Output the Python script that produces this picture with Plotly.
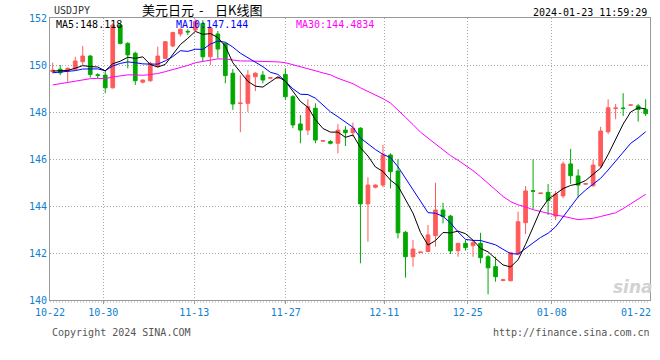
import pandas as pd
import plotly.graph_objects as go

# ---------------- data ----------------
symbol = "USDJPY"
title_left = "美元日元"
title_dash = "-"
title_right = "日K线图"
timestamp = "2024-01-23 11:59:29"
ma_labels = ["MA5:148.118", "MA10:147.144", "MA30:144.4834"]
date_labels = ["10-22", "10-30", "11-13", "11-27", "12-11", "12-25", "01-08", "01-22"]
y_ticks = [140, 142, 144, 146, 148, 150, 152]
copyright_text = "Copyright 2024 SINA.COM"
url_text = "http://finance.sina.com.cn"
watermark = "sina"

opens = [149.72, 149.82, 149.76, 149.82, 150.14, 150.38, 149.58, 149.57, 149.03, 151.70,
         150.92, 150.50, 149.27, 149.33, 149.93, 150.28, 150.81, 151.32, 151.43, 151.49,
         151.77, 150.35, 151.32, 150.92, 149.65, 148.36, 148.37, 149.50, 149.57, 149.44,
         149.44, 149.60, 148.65, 147.49, 147.23, 148.16, 146.76, 146.74, 146.67, 147.23,
         147.12, 147.31, 144.09, 144.80, 144.89, 146.17, 145.49, 142.88, 141.84, 142.02,
         142.06, 142.74, 143.83, 143.57, 142.10, 142.41, 142.31, 142.41, 141.84, 141.42,
         140.83, 140.82, 141.96, 143.29, 144.65, 144.53, 144.58, 143.57, 144.43, 145.79,
         145.28, 144.93, 144.86, 145.70, 147.16, 148.15, 148.17, 148.29, 148.26, 148.11]
highs = [150.10, 150.00, 149.90, 150.35, 150.81, 150.43, 149.65, 149.74, 151.77, 151.75,
         150.97, 150.57, 149.38, 150.14, 150.78, 151.02, 151.42, 151.56, 151.52, 151.95,
         151.91, 151.63, 151.45, 150.92, 149.83, 149.57, 149.79, 149.69, 149.74, 149.47,
         149.47, 149.86, 148.72, 147.87, 148.54, 148.37, 146.79, 146.80, 147.48, 147.40,
         147.55, 147.35, 145.22, 144.92, 146.60, 146.24, 145.99, 142.94, 142.55, 142.05,
         143.19, 144.99, 144.14, 143.62, 142.41, 142.55, 142.55, 142.86, 141.91, 141.84,
         140.90, 142.05, 143.76, 144.85, 145.99, 144.56, 144.94, 144.64, 145.89, 146.43,
         145.56, 144.96, 145.96, 147.37, 148.54, 148.34, 148.80, 148.31, 148.34, 148.54]
lows = [149.65, 149.57, 149.29, 149.80, 150.00, 149.46, 149.43, 148.80, 149.00, 150.88,
        149.86, 149.15, 149.22, 149.29, 149.90, 150.26, 150.76, 151.21, 151.28, 151.45,
        150.14, 150.00, 150.28, 149.22, 148.09, 147.14, 148.01, 148.89, 149.22, 149.42,
        149.42, 148.51, 147.31, 146.67, 147.02, 146.67, 146.74, 146.62, 146.24, 146.55,
        146.95, 141.56, 142.48, 144.75, 144.80, 144.75, 142.62, 140.95, 141.42, 142.00,
        142.06, 142.27, 143.26, 141.96, 141.84, 142.10, 141.84, 141.56, 140.24, 140.78,
        140.80, 140.80, 141.91, 142.81, 143.86, 144.52, 143.62, 143.40, 144.33, 144.94,
        144.37, 144.92, 144.82, 145.60, 147.06, 147.69, 147.83, 148.28, 147.59, 147.83]
closes = [149.78, 149.67, 149.86, 150.17, 150.38, 149.60, 149.56, 149.03, 151.70, 150.92,
          150.43, 149.33, 149.36, 150.07, 150.38, 150.99, 151.38, 151.52, 151.41, 151.85,
          150.35, 151.56, 150.68, 149.55, 148.34, 148.38, 149.57, 149.65, 149.36, 149.46,
          149.46, 148.65, 147.45, 147.23, 148.23, 146.81, 146.78, 146.67, 147.23, 147.12,
          147.31, 144.09, 144.89, 144.89, 146.17, 145.46, 142.86, 141.84, 142.17, 142.04,
          142.77, 143.83, 143.55, 142.09, 142.41, 142.23, 142.44, 141.80, 141.37, 140.99,
          140.86, 142.01, 143.33, 144.64, 144.63, 144.55, 144.23, 144.51, 145.79, 145.29,
          144.89, 144.95, 145.74, 147.19, 148.18, 148.17, 148.15, 148.30, 148.11, 147.93]
# closes before the visible window, estimated from where the MA lines start
prior_closes = [147.90, 148.20, 148.50, 148.30, 148.80, 149.10, 149.37, 149.60, 149.30, 149.40,
                149.35, 149.86, 149.20, 149.00, 148.60, 148.85, 149.00, 148.50, 148.40, 148.60,
                149.30, 149.80, 149.70, 149.69, 149.50, 149.60, 149.80, 149.70, 149.83]

# ---------------- styling / geometry ----------------
W, H = 660, 360
ML, MR, MT, MB = 50, 10, 18, 60
PW, PH = W - ML - MR, H - MT - MB
FIRST_PX, STEP_PX = 52.7, 7.506          # pixel centre of first candle, candle spacing
x_lo = -(FIRST_PX - ML) / STEP_PX
x_hi = x_lo + PW / STEP_PX
grid_px = [103.3, 194.3, 285.7, 384.3, 467.7, 551.7]   # inner date gridlines
edge_label_px = [50.0, 636.0]

RED, GREEN = "#ff5a5a", "#00a800"
BLUE_TXT = "#1080d0"
MONO = "DejaVu Sans Mono"
CJK = "Noto Sans CJK SC"


def to_idx(px):
    return (px - FIRST_PX) / STEP_PX


def pxx(px):
    return (px - ML) / PW


def pxy(py):
    return (MT + PH - py) / PH


n = len(closes)
idx = list(range(n))
allc = pd.Series(prior_closes + closes)
ma5 = allc.rolling(5).mean().iloc[-n:].tolist()
ma10 = allc.rolling(10).mean().iloc[-n:].tolist()
ma30 = allc.rolling(30).mean().iloc[-n:].tolist()

fig = go.Figure()
fig.add_trace(go.Candlestick(
    x=idx, open=opens, high=highs, low=lows, close=closes,
    increasing=dict(line=dict(color=RED, width=1), fillcolor=RED),
    decreasing=dict(line=dict(color=GREEN, width=1), fillcolor=GREEN),
    whiskerwidth=0, showlegend=False, hoverinfo="skip"))
for vals, col in [(ma30, "#ff00ff"), (ma10, "#0000ff"), (ma5, "#000000")]:
    fig.add_trace(go.Scatter(x=idx, y=vals, mode="lines",
                             line=dict(color=col, width=1),
                             showlegend=False, hoverinfo="skip"))

ann = []


def text(s, x, y, anchor, color, size=10, family=MONO, **kw):
    ann.append(dict(text=s, x=pxx(x), y=pxy(y), xref="paper", yref="paper",
                    xanchor=anchor, yanchor="middle", showarrow=False,
                    font=dict(family=family, size=size, color=color, **kw)))


text(symbol, 52, 11, "left", "#333333")
text(title_left, 140, 9, "left", "#000000", size=13, family=CJK)
text(title_dash, 201, 9, "center", "#000000", size=13, family=CJK)
text(title_right, 213, 9, "left", "#000000", size=13, family=CJK)
text(timestamp, 649, 12, "right", "#000000")
text(ma_labels[0], 54, 24, "left", "#000000")
text(ma_labels[1], 174, 24, "left", "#0000ff")
text(ma_labels[2], 294, 24, "left", "#ff00ff")
text(copyright_text, 50, 332, "left", "#555555")
text(url_text, 652, 332, "right", "#555555")
text(date_labels[0], edge_label_px[0], 312, "center", BLUE_TXT)
text(date_labels[-1], edge_label_px[1], 312, "center", BLUE_TXT)
text(watermark, 633, 287, "center", "#d2d2d2", size=17, family="DejaVu Sans",
     weight="bold", style="italic")

fig.update_layout(
    width=W, height=H,
    margin=dict(l=ML, r=MR, t=MT, b=MB, pad=0),
    paper_bgcolor="white", plot_bgcolor="white",
    annotations=ann,
    shapes=[dict(type="line", xref="paper", yref="paper", x0=0, x1=1,
                 y0=pxy(302), y1=pxy(302),
                 line=dict(color="#aaaaaa", width=1, dash="1px,2px"))],
)
fig.update_xaxes(
    range=[x_lo, x_hi], tickmode="array",
    tickvals=[to_idx(p) for p in grid_px], ticktext=date_labels[1:-1],
    showgrid=True, gridcolor="#a8a8a8", gridwidth=1, griddash="1px,2px",
    showline=True, linecolor="#999999", linewidth=1, mirror=True,
    ticks="outside", ticklen=3, tickcolor="#999999",
    tickfont=dict(family=MONO, size=10, color=BLUE_TXT),
    rangeslider=dict(visible=False), zeroline=False, fixedrange=True)
fig.update_yaxes(
    range=[140, 152], tickmode="array", tickvals=y_ticks,
    ticktext=[str(v) for v in y_ticks],
    showgrid=True, gridcolor="#a8a8a8", gridwidth=1, griddash="1px,2px",
    showline=True, linecolor="#999999", linewidth=1, mirror=True,
    ticks="", tickfont=dict(family=MONO, size=10, color=BLUE_TXT),
    zeroline=False, fixedrange=True)

fig.write_html("out.html", config={"displayModeBar": False})
